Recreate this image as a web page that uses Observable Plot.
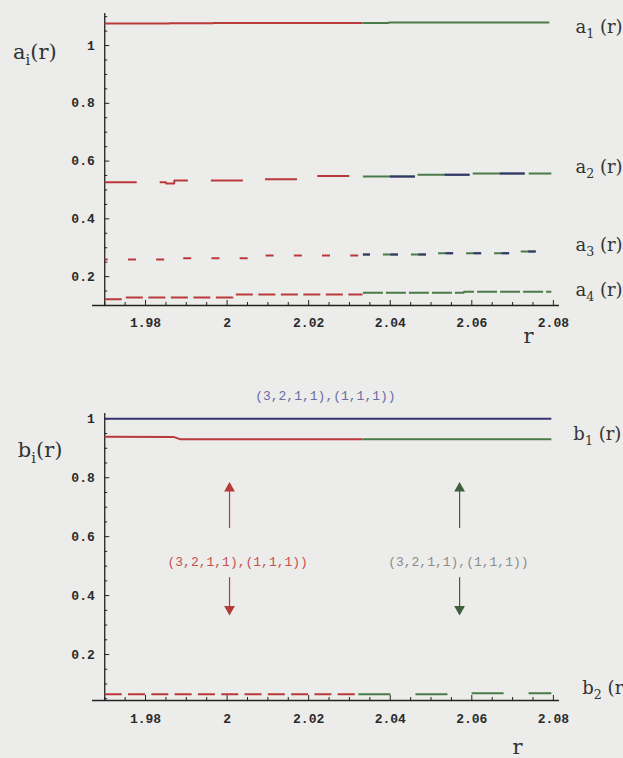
<!DOCTYPE html>
<html><head><meta charset="utf-8">
<script src="https://cdn.jsdelivr.net/npm/d3@7"></script>
<script src="https://cdn.jsdelivr.net/npm/@observablehq/plot@0.6"></script>
<style>
html,body{margin:0;padding:0;background:#ececea;}
#chart{width:623px;height:758px;position:relative;overflow:hidden;}
#chart svg{display:block;}
</style></head><body><div id="chart"></div>
<script>
// ---- data ----
const xTickValues = [1.98, 2.00, 2.02, 2.04, 2.06, 2.08];
const xTickLabels = ["1.98", "2", "2.02", "2.04", "2.06", "2.08"];
const yTickValues = [0.2, 0.4, 0.6, 0.8, 1];
const yTickLabels = ["0.2", "0.4", "0.6", "0.8", "1"];

// top panel: a_i(r)   [r, value]
const a1Red   = [[1.97,1.076],[1.9857,1.076],[1.9858,1.077],[1.9965,1.077],[1.9966,1.078],[2.0332,1.078]];
const a1Green = [[2.0332,1.078],[2.0396,1.078],[2.0397,1.080],[2.079,1.080]];
const a2Red   = [[1.97,0.527],[1.985,0.527],[1.9851,0.522],[1.987,0.522],[1.9871,0.533],[2.008,0.533],[2.0081,0.537],[2.0215,0.537],[2.0216,0.548],[2.0332,0.548]];
const a2Green = [[2.0333,0.547],[2.0462,0.547],[2.0463,0.553],[2.0599,0.553],[2.06,0.557],[2.0795,0.557]];
const a2Blue  = [[2.0333,0.547],[2.0462,0.547],[2.0463,0.553],[2.0599,0.553],[2.06,0.557],[2.0732,0.557]];
const a3Red   = [[1.97,0.259],[1.9875,0.259],[1.9876,0.264],[2.0080,0.264],[2.0081,0.273],[2.0332,0.273]];
const a3Green = [[2.0333,0.277],[2.0495,0.277],[2.0496,0.281],[2.0705,0.281],[2.0706,0.287],[2.0761,0.287]];
const a4Red   = [[1.97,0.122],[1.975,0.122],[1.9751,0.128],[2.0014,0.128],[2.0015,0.138],[2.0332,0.138]];
const a4Green = [[2.0333,0.144],[2.058,0.144],[2.0581,0.148],[2.0795,0.148]];

// bottom panel: b_i(r)
const bTop    = [[1.97,1.0],[2.0795,1.0]];
const b1Red   = [[1.97,0.939],[1.987,0.938],[1.9885,0.931],[2.0332,0.931]];
const b1Green = [[2.0332,0.931],[2.0795,0.931]];
const b2Red   = [[1.97,0.065],[2.0318,0.065]];
const b2Green = [[2.0322,0.065],[2.0595,0.065],[2.0596,0.069],[2.0795,0.069]];

const annotation = "(3,2,1,1),(1,1,1))";

// ---- styles ----
const RED = "#b83a3a", GREEN = "#4a7a48", BLUE = "#34346e", AX = "#222";
const W = 623, ML = 92, MR = 64;
const xDomain = [1.967, 2.0815];
const rPerPx = (xDomain[1] - xDomain[0]) / (W - ML - MR);
const mono = "Liberation Mono, DejaVu Sans Mono, monospace";
const serif = "DejaVu Serif, serif";

const xMinor = d3.range(0, 23).map(i => +(1.97 + i * 0.005).toFixed(3))
  .filter(v => !xTickValues.some(t => Math.abs(t - v) < 1e-6));

function ln(pts, stroke, dash, offset) {
  return Plot.line(pts, {x: d => d[0], y: d => d[1], stroke, strokeWidth: 2,
    strokeLinecap: "butt", strokeDasharray: dash, strokeDashoffset: offset || 0});
}

function axes(yb, yt, height, mt, mb, yMinor, labelDy) {
  const vPerPx = (yt - yb) / (height - mt - mb);
  return [
    Plot.ruleY([yb], {x1: xDomain[0], x2: xDomain[1], stroke: AX, strokeWidth: 1.3}),
    Plot.ruleX([1.97], {y1: yb, y2: yt, stroke: AX, strokeWidth: 1.3}),
    Plot.ruleX(xTickValues, {x: d => d, y1: yb, y2: yb + 5 * vPerPx, stroke: AX}),
    Plot.ruleX(xMinor, {x: d => d, y1: yb, y2: yb + 3 * vPerPx, stroke: AX}),
    Plot.ruleY(yTickValues, {y: d => d, x1: 1.97, x2: 1.97 + 5 * rPerPx, stroke: AX}),
    Plot.ruleY(yMinor, {y: d => d, x1: 1.97, x2: 1.97 + 3 * rPerPx, stroke: AX}),
    Plot.text(xTickValues, {x: d => d, y: yb, dy: labelDy, text: (d, i) => xTickLabels[i],
      fontFamily: mono, fontSize: 13, fontWeight: "bold", fill: "#2a2a2a", letterSpacing: 1.2}),
    Plot.text(yTickValues, {x: 1.97, y: d => d, dx: -10, text: (d, i) => yTickLabels[i],
      textAnchor: "end", fontFamily: mono, fontSize: 13, fontWeight: "bold", fill: "#2a2a2a", letterSpacing: 1.2})
  ];
}

function subscripts(svg) {
  d3.select(svg).selectAll("text").each(function () {
    const s = this.textContent;
    const i = s.indexOf("_");
    if (i < 0) return;
    const base = s.slice(0, i), sub = s[i + 1], rest = s.slice(i + 2);
    const t = d3.select(this);
    t.text(null);
    t.append("tspan").text(base);
    t.append("tspan").attr("font-size", "70%").attr("dy", "0.4em").text(sub);
    t.append("tspan").attr("dy", "-0.28em").text(rest);
  });
}

const isMajor = v => yTickValues.some(t => Math.abs(t - v) < 1e-6);

// ---- top panel ----
const topH = 340, topMT = 13, topMB = 35;
const topMinor = d3.range(3, 23).map(i => +(i * 0.05).toFixed(2)).filter(v => !isMajor(v));
const topPlot = Plot.plot({
  width: W, height: topH, marginLeft: ML, marginRight: MR, marginTop: topMT, marginBottom: topMB,
  x: {domain: xDomain, axis: null},
  y: {domain: [0.1, 1.111], axis: null},
  style: {background: "transparent", overflow: "visible"},
  marks: [
    ...axes(0.1, 1.111, topH, topMT, topMB, topMinor, 17),
    ln(a1Red, RED), ln(a1Green, GREEN),
    ln(a2Red, RED, "32,23"), ln(a2Green, GREEN, "52,4"), ln(a2Blue, BLUE, "0,27,25,4"),
    ln(a3Red, RED, "8,20.2", 5), ln(a3Green, GREEN, "15,13", 8), ln(a3Green, BLUE, "0,7.5,7.5,13", 8),
    ln(a4Red, RED, "17,5.5"), ln(a4Green, GREEN, "20,3"),
    Plot.text(["a_i(r)"], {x: 1.9475, y: 0.976, text: d => d, textAnchor: "start",
      fontFamily: serif, fontSize: 21, fill: "#333"}),
    Plot.text(["a_1 (r)"], {x: 2.0854, y: 1.063, text: d => d, textAnchor: "start", fontFamily: serif, fontSize: 18, fill: "#333"}),
    Plot.text(["a_2 (r)"], {x: 2.0854, y: 0.578, text: d => d, textAnchor: "start", fontFamily: serif, fontSize: 18, fill: "#333"}),
    Plot.text(["a_3 (r)"], {x: 2.0854, y: 0.308, text: d => d, textAnchor: "start", fontFamily: serif, fontSize: 18, fill: "#333"}),
    Plot.text(["a_4 (r)"], {x: 2.0854, y: 0.152, text: d => d, textAnchor: "start", fontFamily: serif, fontSize: 18, fill: "#333"}),
    Plot.text(["r"], {x: 2.0739, y: -0.005, text: d => d, fontFamily: serif, fontSize: 21, fill: "#333"})
  ]
});

// ---- bottom panel ----
const botH = 418, botMT = 73, botMB = 58;
const botMinor = d3.range(1, 21).map(i => +(i * 0.05).toFixed(2)).filter(v => !isMajor(v));
const arrowAt = [[2.0006, "red"], [2.057, "green"]];
const arrowColor = d => d[1] === "red" ? "#b53a3a" : "#3d5f3d";
const botPlot = Plot.plot({
  width: W, height: botH, marginLeft: ML, marginRight: MR, marginTop: botMT, marginBottom: botMB,
  x: {domain: xDomain, axis: null},
  y: {domain: [0.044, 1.018], axis: null},
  style: {background: "transparent", overflow: "visible"},
  marks: [
    ...axes(0.044, 1.018, botH, botMT, botMB, botMinor, 18),
    ln(bTop, BLUE),
    ln(b1Red, RED), ln(b1Green, GREEN),
    ln(b2Red, RED, "17,6.3"), ln(b2Green, GREEN, "32,25"),
    Plot.ruleX(arrowAt, {x: d => d[0], y1: 0.628, y2: 0.757, stroke: arrowColor, strokeWidth: 1.2}),
    Plot.ruleX(arrowAt, {x: d => d[0], y1: 0.461, y2: 0.363, stroke: arrowColor, strokeWidth: 1.2}),
    Plot.dot(arrowAt, {x: d => d[0], y: 0.764, symbol: "triangle", r: 4, fill: arrowColor, stroke: "none"}),
    Plot.dot(arrowAt, {x: d => d[0], y: 0.354, symbol: "triangle", r: 4, rotate: 180, fill: arrowColor, stroke: "none"}),
    Plot.text([annotation], {x: 2.0241, y: 1.079, text: d => d, fontFamily: mono, fontSize: 13, fill: "#6b6ba8", letterSpacing: 0.3}),
    Plot.text([annotation], {x: 2.0026, y: 0.513, text: d => d, fontFamily: mono, fontSize: 13, fill: "#c85050", letterSpacing: 0.3}),
    Plot.text([annotation], {x: 2.0567, y: 0.513, text: d => d, fontFamily: mono, fontSize: 13, fill: "#8c8c8c", letterSpacing: 0.3}),
    Plot.text(["b_i(r)"], {x: 1.9487, y: 0.893, text: d => d, textAnchor: "start", fontFamily: serif, fontSize: 21, fill: "#333"}),
    Plot.text(["b_1 (r)"], {x: 2.0849, y: 0.947, text: d => d, textAnchor: "start", fontFamily: serif, fontSize: 18, fill: "#333"}),
    Plot.text(["b_2 (r)"], {x: 2.0871, y: 0.085, text: d => d, textAnchor: "start", fontFamily: serif, fontSize: 18, fill: "#333"}),
    Plot.text(["r"], {x: 2.0712, y: -0.116, text: d => d, fontFamily: serif, fontSize: 21, fill: "#333"})
  ]
});

subscripts(topPlot); subscripts(botPlot);
const c = document.getElementById("chart");
c.appendChild(topPlot); c.appendChild(botPlot);
</script></body></html>
